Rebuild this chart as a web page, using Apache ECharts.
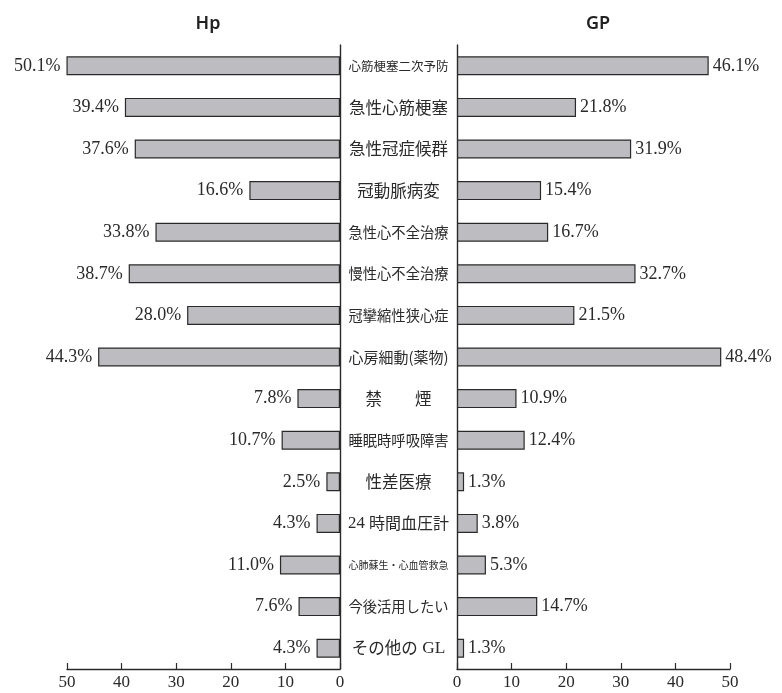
<!DOCTYPE html>
<html>
<head>
<meta charset="utf-8">
<script src="https://cdn.jsdelivr.net/npm/echarts@6/dist/echarts.min.js"></script>
<style>
  html, body { margin: 0; padding: 0; background: #fff; }
  #chart { width: 782px; height: 693px; }
</style>
</head>
<body>
<div id="chart"></div>
<script>
// Guideline usage by item: hospitals (Hp) vs general practitioners (GP), in %
const categories = [
  '心筋梗塞二次予防', '急性心筋梗塞', '急性冠症候群', '冠動脈病変', '急性心不全治療',
  '慢性心不全治療', '冠攣縮性狭心症', '心房細動(薬物)', '禁　　煙', '睡眠時呼吸障害',
  '性差医療', '24 時間血圧計', '心肺蘇生・心血管救急', '今後活用したい', 'その他の GL'
];
const hpValues = [50.1, 39.4, 37.6, 16.6, 33.8, 38.7, 28.0, 44.3, 7.8, 10.7, 2.5, 4.3, 11.0, 7.6, 4.3];
const gpValues = [46.1, 21.8, 31.9, 15.4, 16.7, 32.7, 21.5, 48.4, 10.9, 12.4, 1.3, 3.8, 5.3, 14.7, 1.3];
const axisTicks = [0, 10, 20, 30, 40, 50];
const panelTitles = ['Hp', 'GP'];

const chart = echarts.init(document.getElementById('chart'), null, { renderer: 'canvas' });

const ink = '#2a2a2a';
const barFill = '#bdbdc1';
const serif = '"Liberation Serif", "DejaVu Serif", serif';
const cjk = '"Noto Sans CJK JP", sans-serif';
const baseSize = 16.5;
const maxLabelWidth = 100;

// Split an item name into runs: Latin/digit runs are set in serif, the rest in the CJK face
function splitRuns(name) {
  const runs = [];
  for (const ch of name) {
    const latin = /[\x20-\x7E]/.test(ch) && ch !== '(' && ch !== ')';
    const last = runs[runs.length - 1];
    if (last && last.latin === latin) last.text += ch;
    else runs.push({ latin: latin, text: ch });
  }
  return runs;
}

// Shrink long names so every one fits the centre column between the two panels
const measureCtx = document.createElement('canvas').getContext('2d');
function runsWidth(runs, size) {
  let w = 0;
  for (const r of runs) {
    measureCtx.font = size + 'px ' + (r.latin ? serif : cjk);
    w += measureCtx.measureText(r.text).width;
  }
  return w;
}

const richStyles = {};
const labelMarkup = {};
categories.forEach(function (name, i) {
  const runs = splitRuns(name);
  const w = runsWidth(runs, baseSize);
  const size = Math.min(baseSize, baseSize * maxLabelWidth / w);
  richStyles['c' + i] = { fontFamily: cjk, fontSize: size, color: ink };
  richStyles['l' + i] = { fontFamily: serif, fontSize: size * 1.05, color: ink };
  labelMarkup[name] = runs.map(function (r) {
    return '{' + (r.latin ? 'l' : 'c') + i + '|' + r.text + '}';
  }).join('');
});

function valueAxis(gridIndex, inverse) {
  return {
    type: 'value', gridIndex: gridIndex, inverse: inverse,
    min: axisTicks[0], max: axisTicks[axisTicks.length - 1], interval: 10,
    axisLine: { show: true, lineStyle: { color: ink, width: 1.4 } },
    axisTick: { show: true, inside: true, length: 6, lineStyle: { color: ink, width: 1.2 } },
    axisLabel: { color: ink, fontFamily: serif, fontSize: 17, margin: 5 },
    splitLine: { show: false }
  };
}

chart.setOption({
  animation: false,
  backgroundColor: '#fff',
  title: [
    { text: panelTitles[0], left: 203, top: 10, textAlign: 'center',
      textStyle: { fontFamily: '"Noto Sans", sans-serif', fontSize: 18, fontWeight: 600, color: '#222' } },
    { text: panelTitles[1], left: 593, top: 10, textAlign: 'center',
      textStyle: { fontFamily: '"Noto Sans", sans-serif', fontSize: 18, fontWeight: 600, color: '#222' } }
  ],
  grid: [
    { left: 67, width: 273, top: 45, height: 624 },
    { left: 457, width: 273, top: 45, height: 624 }
  ],
  xAxis: [valueAxis(0, true), valueAxis(1, false)],
  yAxis: [
    {
      type: 'category', gridIndex: 0, data: categories, inverse: true, position: 'right',
      axisLine: { show: true, lineStyle: { color: ink, width: 1.4 } },
      axisTick: { show: false }, axisLabel: { show: false }
    },
    {
      type: 'category', gridIndex: 1, data: categories, inverse: true, position: 'left',
      axisLine: { show: true, lineStyle: { color: ink, width: 1.4 } },
      axisTick: { show: false },
      axisLabel: {
        show: true, align: 'center', margin: 58.5, color: ink,
        formatter: function (v) { return labelMarkup[v]; },
        rich: richStyles
      }
    }
  ],
  series: [
    {
      type: 'bar', xAxisIndex: 0, yAxisIndex: 0, data: hpValues, barWidth: 19,
      itemStyle: { color: barFill, borderColor: ink, borderWidth: 1.2 },
      label: {
        show: true, position: 'left', distance: 6, color: ink,
        fontFamily: serif, fontSize: 18,
        formatter: function (p) { return p.value.toFixed(1) + '%'; }
      }
    },
    {
      type: 'bar', xAxisIndex: 1, yAxisIndex: 1, data: gpValues, barWidth: 19,
      itemStyle: { color: barFill, borderColor: ink, borderWidth: 1.2 },
      label: {
        show: true, position: 'right', distance: 4, color: ink,
        fontFamily: serif, fontSize: 18,
        formatter: function (p) { return p.value.toFixed(1) + '%'; }
      }
    }
  ]
});
</script>
</body>
</html>
